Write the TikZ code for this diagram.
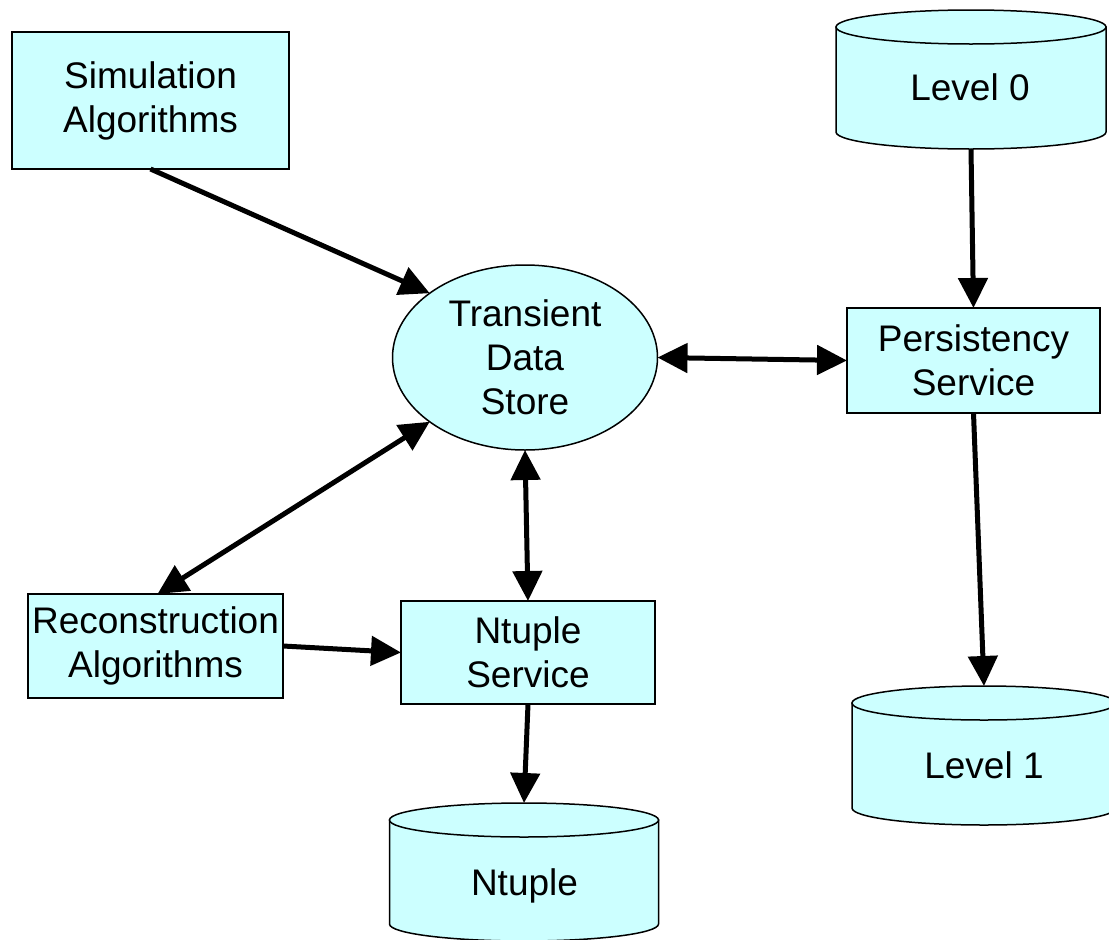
\documentclass[tikz,border=0pt]{standalone}
\usepackage{fontspec}
\setmainfont{Liberation Sans}
\usetikzlibrary{arrows.meta,calc,shapes.geometric}
\definecolor{boxfill}{RGB}{204,255,255}
\tikzset{
  boxtext/.style={font=\fontsize{37}{44}\selectfont, align=center},
  procbox/.style={draw=black, line width=1.5pt, fill=boxfill, rectangle,
    inner sep=0pt, outer sep=0pt, boxtext},
  storeoval/.style={draw=black, line width=1.5pt, fill=boxfill, ellipse,
    inner sep=0pt, outer sep=0pt, boxtext},
  cylanchor/.style={rectangle, inner sep=0pt, outer sep=0pt},
  cylline/.style={draw=black, line width=1.5pt, fill=boxfill},
  bigtip/.tip={Triangle[length=30pt,width=29pt]},
  flow/.style={line width=5pt, -bigtip},
  dualflow/.style={line width=5pt, bigtip-bigtip}
}
% cylinder: centre x, top-ellipse centre y, bottom-ellipse centre y, x radius, y radius
\newcommand{\dbcylinder}[5]{%
  \path[cylline] (#1-#4,#2) -- (#1-#4,#3)
     arc[start angle=180, end angle=360, x radius=#4pt, y radius=#5pt]
     -- (#1+#4,#2) -- cycle;
  \path[cylline] (#1,#2) ellipse [x radius=#4pt, y radius=#5pt];
}
\begin{document}
\begin{tikzpicture}[x=1pt,y=-1pt]
\useasboundingbox (0,0) rectangle (1109,940);
\clip (0,0) rectangle (1109,940);

% data stores drawn as cylinders
\dbcylinder{971}{27}{132}{135}{17}
\node[cylanchor, minimum width=270pt, minimum height=139pt] (lv0) at (971,79.5) {};
\node[boxtext, anchor=base] (lv0txt) at (970,100) {Level 0};

\dbcylinder{984}{703}{808}{132}{17}
\node[cylanchor, minimum width=264pt, minimum height=139pt] (lv1) at (984,755.5) {};
\node[boxtext, anchor=base] (lv1txt) at (984,778) {Level 1};

\dbcylinder{524}{820}{924}{134.5}{17}
\node[cylanchor, minimum width=269pt, minimum height=138pt] (nt) at (524,872) {};
\node[boxtext, anchor=base] (nttxt) at (524.5,895) {Ntuple};

% processing components
\node[procbox, minimum width=277pt, minimum height=137pt] (sim) at (150.5,100.5) {Simulation\\Algorithms};
\node[procbox, minimum width=253pt, minimum height=105pt] (per) at (973.5,360.5) {Persistency\\Service};
\node[procbox, minimum width=255pt, minimum height=104pt] (reco) at (155.5,646) {Reconstruction\\Algorithms};
\node[procbox, minimum width=254pt, minimum height=103pt] (nts) at (528,652.5) {Ntuple\\Service};
\node[storeoval, minimum width=265pt, minimum height=185pt] (tds) at (525,357.5) {Transient\\Data\\Store};

% data flow
\draw[flow] (sim.south) -- (tds.146);
\draw[flow] (lv0.south) -- (per.north);
\draw[dualflow] (tds.east) -- (per.west);
\draw[dualflow] (tds.214) -- ($(reco.north)+(2,0)$);
\draw[dualflow] (tds.south) -- (nts.north);
\draw[flow] (reco.east) -- (nts.west);
\draw[flow] (nts.south) -- (nt.north);
\draw[flow] (per.south) -- (lv1.north);
\end{tikzpicture}
\end{document}
